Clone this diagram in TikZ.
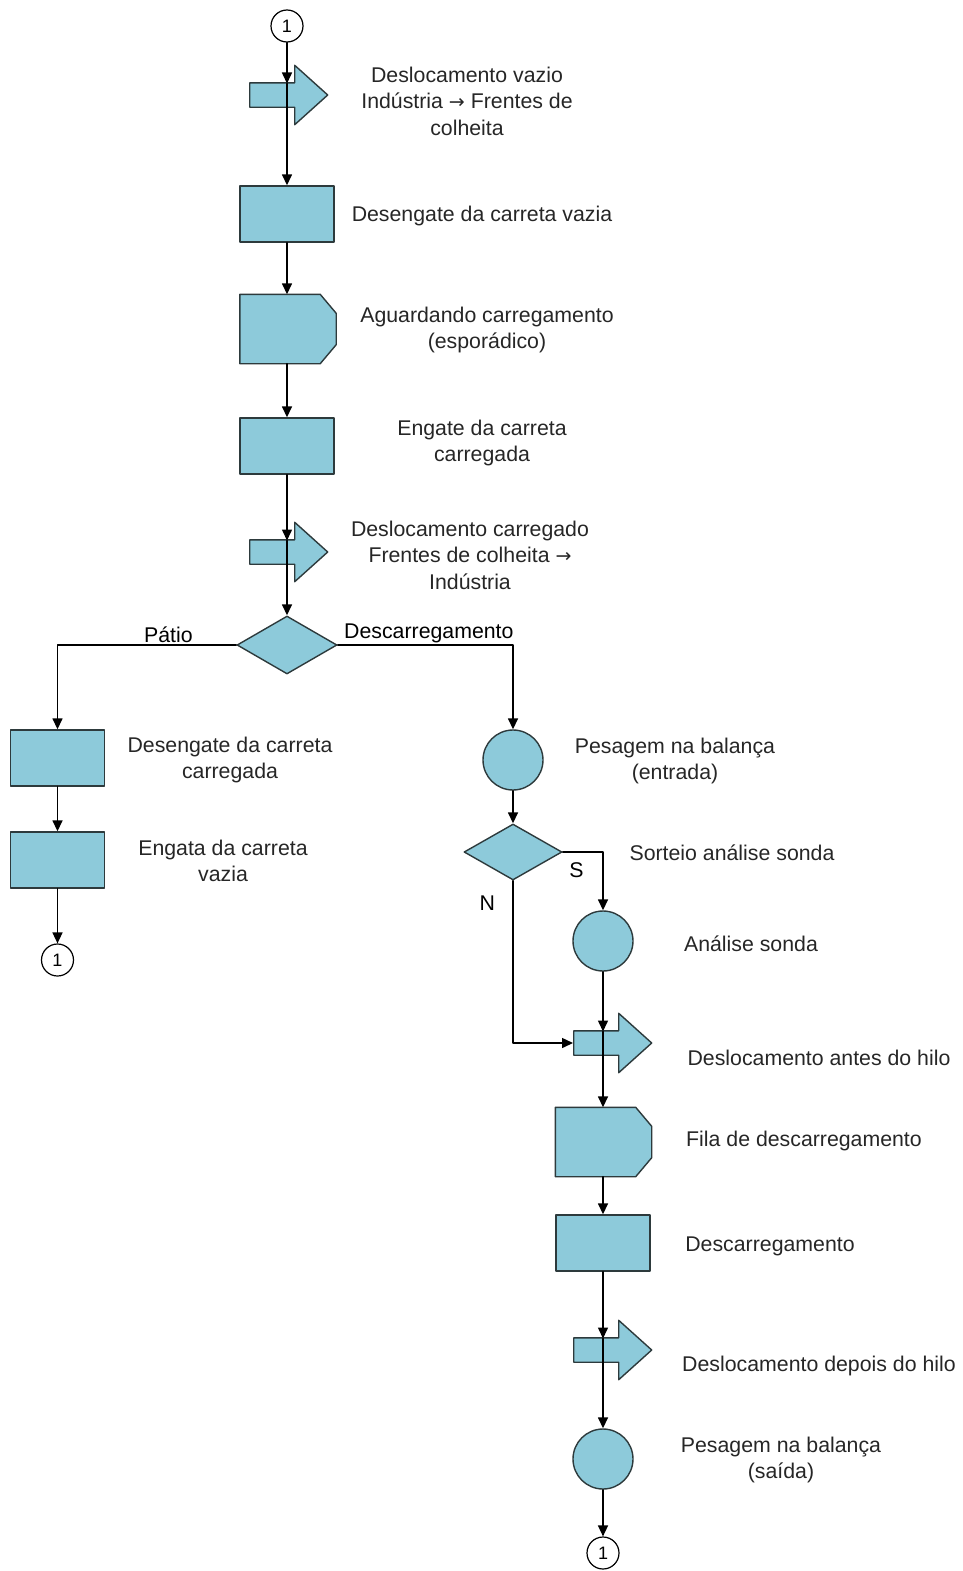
\documentclass[tikz,border=0pt]{standalone}
\usepackage{fontspec}
\setmainfont{Liberation Sans}
\newfontfamily\arrowfont{DejaVu Sans}
\usepackage{tikz}
\usetikzlibrary{
  calc,arrows.meta,positioning,shapes.geometric,shapes.arrows
}
\definecolor{boxblue}{RGB}{141,202,218}
\definecolor{edge}{RGB}{45,58,60}
\tikzset{
  proc/.style={rectangle,draw=edge,fill=boxblue,line width=1.4pt,
    minimum width=94pt,minimum height=56pt,inner sep=0pt},
  waitbox/.style={rectangle,minimum width=96pt,minimum height=69pt,
    inner sep=0pt},
  waitline/.style={draw=edge,fill=boxblue,line width=1.4pt},
  move/.style={single arrow,draw=edge,fill=boxblue,line width=1.4pt,
    minimum height=78pt,inner xsep=0pt,inner ysep=11.5pt,
    single arrow head extend=17.5pt,single arrow tip angle=84},
  check/.style={circle,draw=edge,fill=boxblue,line width=1.4pt,
    minimum size=60pt,inner sep=0pt},
  choice/.style={diamond,draw=edge,fill=boxblue,line width=1.4pt,
    minimum width=100pt,minimum height=58pt,inner sep=0pt},
  link/.style={circle,draw=black,fill=white,line width=1.2pt,
    minimum size=32pt,inner sep=0pt,font=\fontsize{18}{18}\selectfont},
  lbl/.style={align=center,text=black!85,
    font=\fontsize{21.3}{26.5}\selectfont},
  every node/.style={font=\fontsize{21.3}{26.5}\selectfont}
}
\tikzstyle{flow} = [line width=1.5pt,-{Triangle[length=11pt,width=10pt]}]
\newcommand{\toarrow}{{\arrowfont\fontsize{19}{19}\selectfont→}}

\begin{document}
\begin{tikzpicture}[x=1pt,y=-1pt,line cap=round,line join=round]
  \useasboundingbox (0,0) rectangle (963,1571);

  % --- Main column ---
  \node[link] (c1) at (287,26) {1};
  \node[move,anchor=tail] (arr1) at (249,95) {};
  \node[proc] (desV) at (287,214) {};
  \node[waitbox] (agu) at (288,329) {};
  \node[proc] (engC) at (287,446) {};
  \node[move,anchor=tail] (arr2) at (249,552) {};
  \node[choice] (dec1) at (287,645) {};

  % --- Left branch (patio) ---
  \node[proc] (desC) at (57.5,758) {};
  \node[proc] (engV) at (57.5,860) {};
  \node[link] (c2) at (57.5,960) {1};

  % --- Right branch (unloading) ---
  \node[check] (pesE) at (513,760) {};
  \node[choice,minimum width=98pt,minimum height=56pt] (dec2) at (513,852) {};
  \node[check] (sonda) at (603,941) {};
  \node[move,anchor=tail] (arr3) at (573,1043) {};
  \node[waitbox] (fila) at (603.5,1142) {};
  \node[proc] (desc) at (603,1243) {};
  \node[move,anchor=tail] (arr4) at (573,1350) {};
  \node[check] (pesS) at (603,1459) {};
  \node[link] (c3) at (603,1553) {1};

  % --- Delay outlines (chamfered on the right) ---
  \foreach \w in {agu,fila}
    \draw[waitline] (\w.north west) -- ([xshift=-16pt]\w.north east)
      -- ([yshift=-19pt]\w.north east) -- ([yshift=19pt]\w.south east)
      -- ([xshift=-16pt]\w.south east) -- (\w.south west) -- cycle;

  % --- Entry points on top of the block arrows (shaft edge) ---
  \coordinate (in1) at ($(arr1.tail -| c1)+(0,-11.5)$);
  \coordinate (in2) at ($(arr2.tail -| engC)+(0,-11.5)$);
  \coordinate (in3) at ($(arr3.tail -| sonda)+(0,-11.5)$);
  \coordinate (in4) at ($(arr4.tail -| desc)+(0,-11.5)$);

  % --- Texts ---
  \node[lbl] (tArr1) at (467,101) {Deslocamento vazio\\Indústria \toarrow{} Frentes de\\colheita};
  \node[lbl] (tDesV) at (482,216) {Desengate da carreta vazia};
  \node[lbl] (tAgu) at (487,330) {Aguardando carregamento\\(esporádico)};
  \node[lbl] (tEngC) at (482,443) {Engate da carreta\\carregada};
  \node[lbl] (tArr2) at (470,555) {Deslocamento carregado\\Frentes de colheita \toarrow\\Indústria};
  \node[lbl] (tDesC) at (230,760) {Desengate da carreta\\carregada};
  \node[lbl] (tEngV) at (223,861) {Engata da carreta\\vazia};
  \node[lbl] (tPesE) at (675,761) {Pesagem na balança\\(entrada)};
  \node[lbl] (tDec2) at (732,853) {Sorteio análise sonda};
  \node[lbl] (tSonda) at (751,944) {Análise sonda};
  \node[lbl] (tArr3) at (819,1058) {Deslocamento antes do hilo};
  \node[lbl] (tFila) at (804,1141) {Fila de descarregamento};
  \node[lbl] (tDesc) at (770,1246) {Descarregamento};
  \node[lbl] (tArr4) at (819,1366) {Deslocamento depois do hilo};
  \node[lbl] (tPesS) at (781,1460) {Pesagem na balança\\(saída)};

  % --- Connectors ---
  \draw[flow] (c1) -- (in1);
  \draw[flow] (in1) -- (desV);
  \draw[flow] (desV) -- (agu.north -| desV);
  \draw[flow] (agu.south -| desV) -- (engC);
  \draw[flow] (engC) -- (in2);
  \draw[flow] (in2) -- (dec1);
  \draw[flow] (dec1.west) -| node[pos=0.19,above,inner sep=2pt] (lPatio) {Pátio} (desC);
  \draw[flow] (desC) -- (engV);
  \draw[flow] (engV) -- (c2);
  \draw[flow] (dec1.east) -| node[pos=0.26,above,inner sep=1pt] (lDesc) {Descarregamento} (pesE);
  \draw[flow] (pesE) -- (dec2);
  \draw[flow] (dec2.east) -| node[pos=0.17,below=7pt] (lS) {S} (sonda);
  \draw[flow] (dec2.south) |- node[pos=0.07,left=14pt] (lN) {N} (arr3.tail);
  \draw[flow] (sonda) -- (in3);
  \draw[flow] (in3) -- (fila.north -| sonda);
  \draw[flow] (fila.south -| sonda) -- (desc);
  \draw[flow] (desc) -- (in4);
  \draw[flow] (in4) -- (pesS);
  \draw[flow] (pesS) -- (c3);

\end{tikzpicture}
\end{document}
